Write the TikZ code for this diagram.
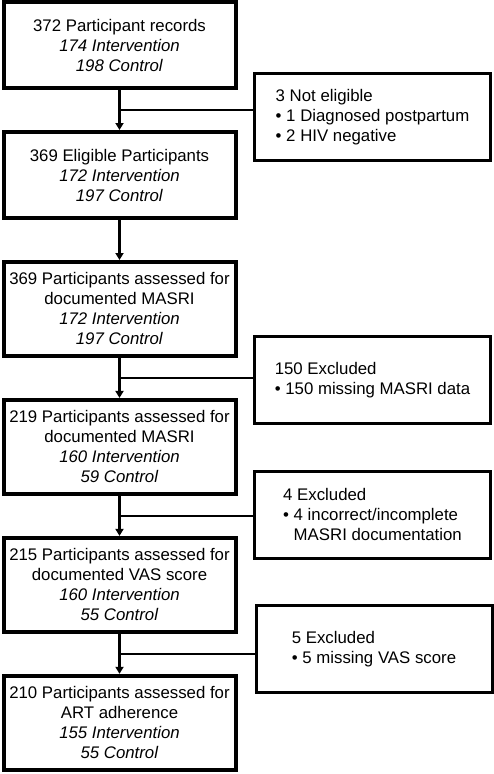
\documentclass[tikz,border=0pt]{standalone}
\usepackage{fontspec}
\setmainfont{Liberation Sans}
\usetikzlibrary{arrows.meta, positioning, calc}
\tikzset{
    stagebox/.style={draw=black, line width=4pt, align=center, font=\fontsize{16.8}{20}\selectfont,
                minimum width=232pt, minimum height=86pt, inner xsep=3pt, inner ysep=10.8pt},
    exclbox/.style={draw=black, line width=3pt, align=left, font=\fontsize{16.8}{20}\selectfont,
                minimum width=236pt, minimum height=87pt, inner sep=4pt, anchor=west},
    arr/.style={-{Triangle[length=7pt, width=8pt]}, line width=3pt},
    link/.style={line width=2.5pt}
}

\begin{document}
\begin{tikzpicture}[node distance=40pt]
        \useasboundingbox (0,0) rectangle (494pt,-774pt);
        % main flow
        \node[stagebox] (rec) at (119.5pt,-45pt) {372 Participant records\\\textit{174 Intervention}\\\textit{198 Control}};
        \node[stagebox, below=of rec] (elig) {369 Eligible Participants\\\textit{172 Intervention}\\\textit{197 Control}};
        \node[stagebox, below=of elig] (masri) {369 Participants assessed for\\documented MASRI\\\textit{172 Intervention}\\\textit{197 Control}};
        \node[stagebox, below=of masri] (masridoc) {219 Participants assessed for\\documented MASRI\\\textit{160 Intervention}\\\textit{59 Control}};
        \node[stagebox, below=of masridoc] (vas) {215 Participants assessed for\\documented VAS score\\\textit{160 Intervention}\\\textit{55 Control}};
        \node[stagebox, below=of vas] (art) {210 Participants assessed for\\ART adherence\\\textit{155 Intervention}\\\textit{55 Control}};
        % junctions on the arrows
        \coordinate (j1) at ($(rec.south)!0.5!(elig.north)$);
        \coordinate (j2) at ($(masri.south)!0.5!(masridoc.north)$);
        \coordinate (j3) at ($(masridoc.south)!0.5!(vas.north)$);
        \coordinate (j4) at ($(vas.south)!0.5!(art.north)$);
        % exclusions
        \node[exclbox] (notelig) at ($(j1) + (133.5pt,-7pt)$) {3 Not eligible\\• 1 Diagnosed postpartum\\• 2 HIV negative};
        \node[exclbox] (nomasri) at ($(j2) + (133.5pt,-2.5pt)$) {150 Excluded\\• 150 missing MASRI data};
        \node[exclbox] (baddoc) at ($(j3) + (133.5pt,1pt)$) {4 Excluded\\• 4 incorrect/incomplete\\\hphantom{• }MASRI documentation};
        \node[exclbox] (novas) at ($(j4) + (135pt,5pt)$) {5 Excluded\\• 5 missing VAS score};
        \draw[arr] (rec) -- (elig);
        \draw[arr] (elig) -- (masri);
        \draw[arr] (masri) -- (masridoc);
        \draw[arr] (masridoc) -- (vas);
        \draw[arr] (vas) -- (art);
        \draw[link] (notelig.west |- j1) -- (j1);
        \draw[link] (nomasri.west |- j2) -- (j2);
        \draw[link] (baddoc.west |- j3) -- (j3);
        \draw[link] (novas.west |- j4) -- (j4);
    \end{tikzpicture}
\end{document}
